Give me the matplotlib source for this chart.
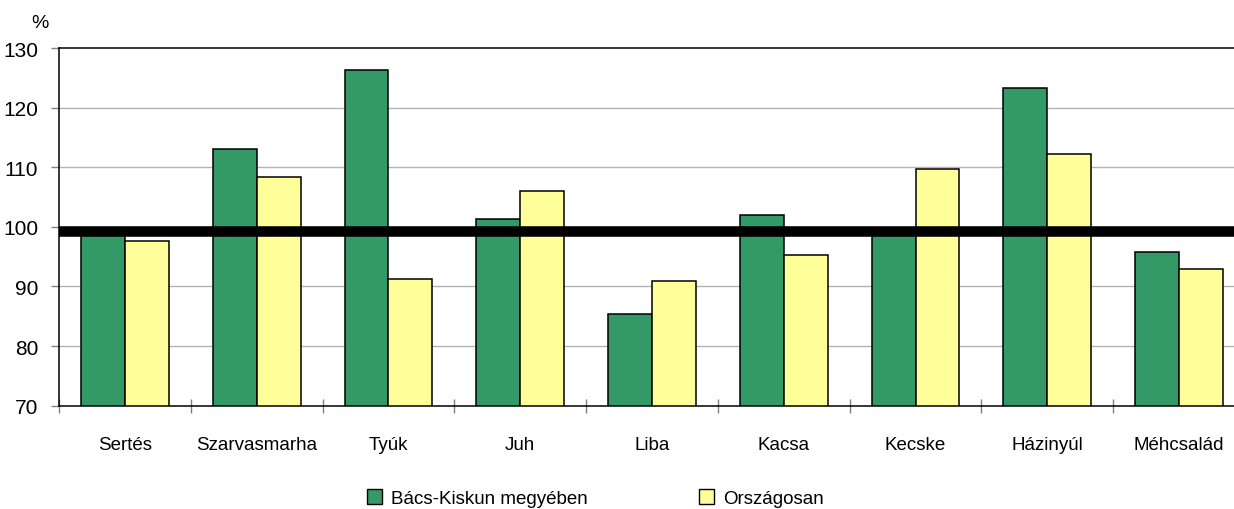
import matplotlib
matplotlib.use('Agg')
import matplotlib.pyplot as plt
from matplotlib.patches import Patch
import numpy as np

plt.rcParams['font.family'] = ['Liberation Sans', 'DejaVu Sans']

# ── data ──────────────────────────────────────────────────────────────────────
categories = ['Sertés', 'Szarvasmarha', 'Tyúk', 'Juh', 'Liba',
              'Kacsa', 'Kecske', 'Házinyúl', 'Méhcsalád']
bacs_kiskun = [99.5, 113.0, 126.3, 101.3, 85.3, 102.0, 99.5, 123.3, 95.7]
orszagosan = [97.7, 108.3, 91.3, 106.0, 91.0, 95.3, 109.7, 112.3, 93.0]
series_names = ['Bács-Kiskun megyében', 'Országosan']
ref_level = 99.3
y_ticks = [70, 80, 90, 100, 110, 120, 130]

GREEN = '#339966'
YELLOW = '#FFFF99'

fig = plt.figure(figsize=(12.34, 5.10), dpi=100)
# axes runs a little past the right edge, like the original export
ax = fig.add_axes([59 / 1234, 103.3 / 510, 1186 / 1234, 357.7 / 510])

x = np.arange(len(categories))
w = 1 / 3
ax.bar(x - w / 2, bacs_kiskun, w, color=GREEN,
       edgecolor='black', linewidth=1.1, zorder=2)
ax.bar(x + w / 2, orszagosan, w, color=YELLOW,
       edgecolor='black', linewidth=1.1, zorder=2)

ax.axhline(ref_level, color='black', linewidth=7.6, zorder=3)

ax.set_ylim(70, 130)
ax.set_xlim(-0.5, len(categories) - 0.5)
ax.set_yticks(y_ticks)
ax.set_yticklabels([str(v) for v in y_ticks], fontsize=15)
for v in y_ticks[1:-1]:
    ax.axhline(v, color='#b3b3b3', linewidth=1.0, zorder=1)

ax.set_xticks(x)
ax.set_xticklabels(categories, fontsize=13.5)
ax.set_xticks(np.arange(len(categories)) - 0.5, minor=True)
ax.tick_params(axis='x', which='major', length=0, pad=22)
ax.tick_params(axis='x', which='minor', direction='inout', length=10,
               color='#808080', width=1.0)
ax.tick_params(axis='y', direction='out', length=6, color='#808080',
               width=1.0, pad=9)

for s in ax.spines.values():
    s.set_color('black')
    s.set_linewidth(1.1)
ax.spines['right'].set_visible(False)

fig.text(40 / 1234, 1 - 23 / 510, '%', fontsize=14, ha='center', va='center')

handles = [Patch(facecolor=GREEN, edgecolor='black', linewidth=1.0),
           Patch(facecolor=YELLOW, edgecolor='black', linewidth=1.0)]
fig.legend(handles, series_names, loc='center left',
           bbox_to_anchor=(367 / 1234, 1 - 499 / 510), ncol=2, frameon=False,
           fontsize=13.5, handlelength=0.8, handleheight=0.8,
           handletextpad=0.5, columnspacing=5.9, borderpad=0, borderaxespad=0)

fig.savefig('out.png', dpi=100)
